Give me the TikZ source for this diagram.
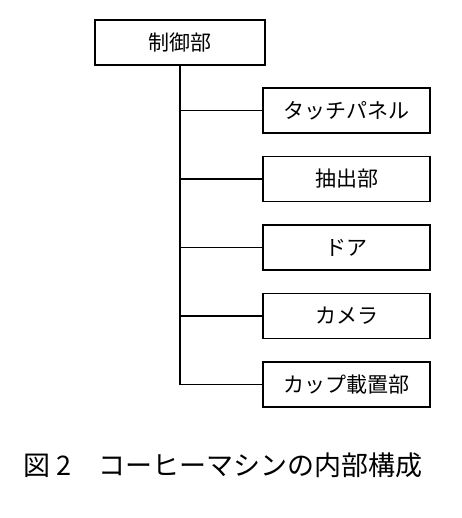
\documentclass[tikz,border=0pt]{standalone}
\usepackage{fontspec}
\setmainfont{Noto Sans CJK JP}
\usepackage{tikz}
\usetikzlibrary{trees}

\begin{document}
\begin{tikzpicture}[%
	x=1pt,y=1pt,line width=1.5pt,
	part/.style={draw,minimum width=167pt,minimum height=45pt,inner sep=0pt,
		font=\fontsize{21pt}{25pt}\selectfont},
	grow via three points={one child at (166.5,-68) and
		two children at (166.5,-68) and (166.5,-136.5)},
	edge from parent path={(\tikzparentnode.south) |- (\tikzchildnode.west)}]
	\useasboundingbox (0,0) rectangle (461,-518);
	\node[part,minimum width=170pt] (ctrl) at (180,-42.5) {制御部}
	child { node[part] (touch) {タッチパネル}}
	child { node[part] (extract) {抽出部}}
	child { node[part] (door) {ドア}}
	child { node[part] (camera) {カメラ}}
	child { node[part] (cupstand) {カップ載置部}}
	;
	\node[font=\fontsize{27pt}{30pt}\selectfont] (caption) at (223,-465) {図 2　コーヒーマシンの内部構成};
\end{tikzpicture}
\end{document}
